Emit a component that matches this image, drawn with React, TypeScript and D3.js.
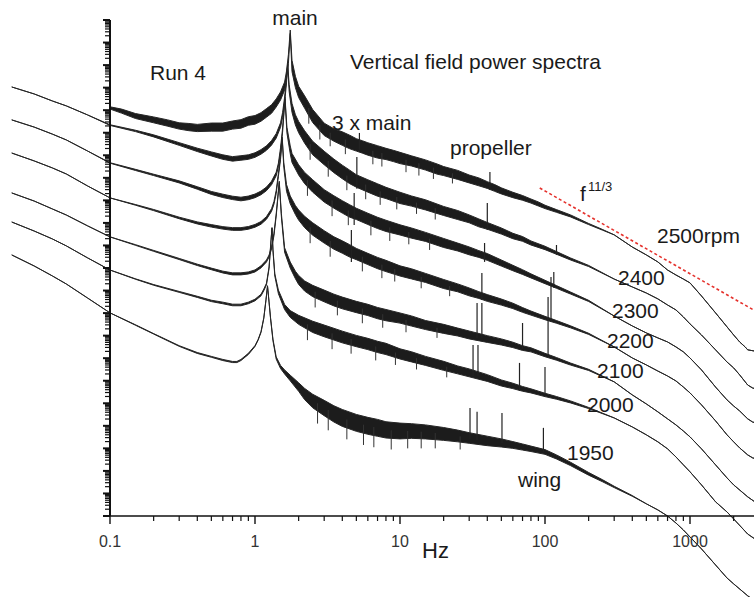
import React from "react";
import * as d3 from "d3";

// [frequency Hz, log10 power, noise spread (decades)]
type Pt = [number, number, number];
// [frequency Hz, top log10 power, bottom log10 power]
type Spike = [number, number, number];

const spec2500: Pt[] = [
  [0.1, -3.9, 0.1], [0.12, -4.04, 0.18], [0.15, -4.26, 0.22], [0.2, -4.43, 0.26], [0.25, -4.57, 0.28],
  [0.3, -4.7, 0.28], [0.35, -4.75, 0.32], [0.4, -4.79, 0.32], [0.5, -4.75, 0.36], [0.6, -4.75, 0.36],
  [0.7, -4.66, 0.36], [0.8, -4.61, 0.38], [0.9, -4.48, 0.38], [1.0, -4.43, 0.38], [1.1, -4.3, 0.38],
  [1.2, -4.12, 0.38], [1.3, -3.95, 0.38], [1.4, -3.68, 0.36], [1.5, -3.37, 0.36], [1.6, -2.93, 0.36],
  [1.65, -2.44, 0.36], [1.7, -1.73, 0.4], [1.75, -0.52, 0.15], [1.8, -2.04, 0.5], [1.9, -2.75, 0.5],
  [2.0, -3.19, 0.5], [2.2, -3.64, 0.55], [2.5, -4.26, 0.58], [3, -4.85, 0.55], [3.5, -5.1, 0.55],
  [4, -5.26, 0.6], [4.5, -5.41, 0.6], [5, -5.54, 0.55], [5.5, -5.63, 0.55], [6, -5.72, 0.55],
  [7, -5.85, 0.55], [8, -5.94, 0.5], [9, -6.03, 0.5], [10, -6.12, 0.5], [12, -6.25, 0.45],
  [15, -6.43, 0.45], [18, -6.61, 0.45], [20, -6.7, 0.4], [25, -6.87, 0.4], [30, -7.05, 0.35],
  [35, -7.18, 0.35], [40, -7.32, 0.3], [45, -7.45, 0.3], [50, -7.58, 0.27], [60, -7.76, 0.24],
  [70, -7.89, 0.21], [80, -8.03, 0.18], [90, -8.16, 0.18], [100, -8.29, 0.15], [120, -8.47, 0.12],
  [150, -8.69, 0.09], [200, -9.05, 0.05], [250, -9.31, 0.03], [300, -9.53, 0], [400, -10.07, 0],
  [500, -10.42, 0], [600, -10.73, 0], [700, -11.09, 0], [800, -11.31, 0], [900, -11.49, 0],
  [1000, -11.66, 0], [1200, -12.24, 0], [1500, -12.99, 0], [1800, -13.61, 0], [2000, -13.97, 0],
  [2200, -14.28, 0], [2400, -14.5, 0], [2500, -14.63, 0], [3000, -14.72, 0],
];

const spec2400: Pt[] = [
  [0.021, -2.97, 0], [0.03, -3.28, 0], [0.04, -3.59, 0], [0.05, -3.81, 0], [0.07, -4.21, 0],
  [0.1, -4.66, 0.03], [0.15, -4.92, 0.06], [0.2, -5.14, 0.09], [0.3, -5.5, 0.12], [0.4, -5.76, 0.15],
  [0.5, -5.94, 0.18], [0.6, -6.08, 0.2], [0.7, -6.16, 0.2], [0.8, -6.12, 0.2], [0.9, -6.08, 0.2],
  [1.0, -5.99, 0.2], [1.1, -5.85, 0.2], [1.2, -5.68, 0.2], [1.3, -5.45, 0.2], [1.4, -5.14, 0.2],
  [1.5, -4.66, 0.2], [1.55, -4.21, 0.22], [1.6, -3.55, 0.25], [1.65, -2.66, 0.25], [1.68, -1.95, 0.1],
  [1.72, -3.02, 0.3], [1.8, -3.9, 0.4], [1.9, -4.43, 0.45], [2.0, -4.75, 0.5], [2.2, -5.19, 0.55],
  [2.5, -5.68, 0.6], [3, -6.12, 0.6], [3.5, -6.47, 0.6], [4, -6.74, 0.6], [4.5, -6.96, 0.6],
  [5, -7.14, 0.55], [6, -7.36, 0.55], [7, -7.54, 0.55], [8, -7.67, 0.5], [10, -7.89, 0.5],
  [12, -8.03, 0.45], [15, -8.2, 0.45], [20, -8.47, 0.4], [25, -8.65, 0.4], [30, -8.82, 0.35],
  [35, -9.0, 0.35], [40, -9.13, 0.3], [50, -9.36, 0.27], [60, -9.58, 0.24], [70, -9.71, 0.21],
  [80, -9.89, 0.18], [100, -10.11, 0.15], [120, -10.33, 0.12], [150, -10.6, 0.09], [200, -10.91, 0.05],
  [300, -11.49, 0], [400, -11.84, 0], [500, -12.11, 0], [600, -12.37, 0], [700, -12.64, 0],
  [800, -12.86, 0], [900, -13.17, 0], [1000, -13.48, 0], [1200, -13.97, 0], [1500, -14.63, 0],
  [1800, -15.17, 0], [2000, -15.43, 0], [2200, -15.74, 0], [2500, -16.19, 0], [2700, -16.32, 0],
  [3000, -16.41, 0],
];

const spec2300: Pt[] = [
  [0.021, -4.43, 0], [0.03, -4.75, 0], [0.04, -5.06, 0], [0.05, -5.32, 0], [0.07, -5.81, 0],
  [0.1, -6.34, 0.02], [0.15, -6.65, 0.05], [0.2, -6.87, 0.06], [0.3, -7.18, 0.09], [0.4, -7.45, 0.11],
  [0.5, -7.67, 0.13], [0.6, -7.8, 0.15], [0.7, -7.89, 0.15], [0.8, -7.94, 0.16], [0.9, -7.89, 0.16],
  [1.0, -7.8, 0.16], [1.1, -7.67, 0.16], [1.2, -7.49, 0.16], [1.3, -7.23, 0.16], [1.4, -6.83, 0.16],
  [1.45, -6.43, 0.16], [1.5, -5.76, 0.18], [1.55, -4.88, 0.18], [1.61, -3.46, 0.08], [1.66, -4.88, 0.25],
  [1.75, -5.76, 0.35], [1.8, -6.12, 0.4], [2.0, -6.65, 0.45], [2.2, -7.01, 0.5], [2.5, -7.36, 0.55],
  [3, -7.8, 0.55], [3.5, -8.07, 0.55], [4, -8.29, 0.55], [4.5, -8.47, 0.55], [5, -8.6, 0.5],
  [6, -8.82, 0.5], [7, -9.0, 0.5], [8, -9.13, 0.5], [10, -9.31, 0.45], [12, -9.45, 0.45],
  [15, -9.62, 0.4], [20, -9.89, 0.4], [25, -10.07, 0.35], [30, -10.24, 0.35], [35, -10.38, 0.3],
  [40, -10.51, 0.3], [50, -10.78, 0.27], [60, -11.0, 0.24], [70, -11.18, 0.21], [80, -11.35, 0.18],
  [100, -11.62, 0.15], [120, -11.84, 0.12], [150, -12.11, 0.09], [200, -12.46, 0.05], [300, -13.13, 0],
  [400, -13.57, 0], [500, -13.88, 0], [600, -14.1, 0], [700, -14.28, 0], [800, -14.5, 0],
  [900, -14.72, 0], [1000, -14.99, 0], [1200, -15.52, 0], [1500, -16.28, 0], [1800, -16.85, 0],
  [2000, -17.12, 0], [2200, -17.34, 0], [2500, -17.69, 0], [2700, -17.83, 0], [3000, -17.92, 0],
];

const spec2200: Pt[] = [
  [0.021, -5.9, 0], [0.03, -6.25, 0], [0.04, -6.56, 0], [0.05, -6.83, 0], [0.07, -7.36, 0],
  [0.1, -7.89, 0], [0.15, -8.2, 0.03], [0.2, -8.43, 0.05], [0.3, -8.78, 0.07], [0.4, -9.0, 0.09],
  [0.5, -9.13, 0.11], [0.6, -9.22, 0.11], [0.7, -9.27, 0.12], [0.8, -9.27, 0.12], [0.9, -9.22, 0.12],
  [1.0, -9.13, 0.12], [1.1, -9.0, 0.12], [1.2, -8.78, 0.12], [1.3, -8.43, 0.12], [1.35, -8.12, 0.12],
  [1.4, -7.63, 0.13], [1.45, -6.87, 0.13], [1.5, -6.12, 0.13], [1.54, -5.23, 0.07], [1.58, -6.43, 0.2],
  [1.65, -7.45, 0.3], [1.75, -7.98, 0.35], [1.9, -8.43, 0.4], [2.0, -8.65, 0.45], [2.2, -8.96, 0.5],
  [2.5, -9.27, 0.55], [3, -9.62, 0.55], [3.5, -9.89, 0.55], [4, -10.07, 0.55], [4.5, -10.24, 0.55],
  [5, -10.38, 0.5], [6, -10.6, 0.5], [7, -10.78, 0.5], [8, -10.91, 0.5], [10, -11.13, 0.45],
  [12, -11.26, 0.45], [15, -11.44, 0.4], [20, -11.71, 0.4], [25, -11.88, 0.35], [30, -12.06, 0.35],
  [35, -12.2, 0.3], [40, -12.33, 0.3], [50, -12.51, 0.27], [60, -12.68, 0.24], [70, -12.86, 0.21],
  [80, -13.0, 0.18], [100, -13.22, 0.15], [120, -13.39, 0.12], [150, -13.61, 0.09], [200, -13.92, 0.05],
  [300, -14.5, 0], [400, -14.99, 0], [500, -15.3, 0], [600, -15.57, 0], [700, -15.79, 0],
  [800, -16.01, 0], [900, -16.28, 0], [1000, -16.54, 0], [1200, -17.07, 0], [1500, -17.78, 0],
  [1800, -18.4, 0], [2000, -18.71, 0], [2200, -18.98, 0], [2500, -19.29, 0], [2700, -19.42, 0],
  [3000, -19.51, 0],
];

const spec2100: Pt[] = [
  [0.021, -7.67, 0], [0.03, -8.03, 0], [0.04, -8.38, 0], [0.05, -8.65, 0], [0.07, -9.13, 0],
  [0.1, -9.62, 0], [0.15, -9.98, 0.03], [0.2, -10.24, 0.04], [0.3, -10.6, 0.05], [0.4, -10.86, 0.06],
  [0.5, -11.04, 0.07], [0.6, -11.18, 0.08], [0.7, -11.26, 0.09], [0.8, -11.26, 0.09], [0.9, -11.22, 0.09],
  [1.0, -11.13, 0.09], [1.1, -10.95, 0.09], [1.2, -10.69, 0.09], [1.25, -10.47, 0.09], [1.3, -10.11, 0.1],
  [1.35, -9.53, 0.1], [1.4, -8.65, 0.1], [1.47, -7.18, 0.06], [1.52, -8.65, 0.14], [1.6, -10.2, 0.2],
  [1.75, -10.87, 0.27], [1.9, -11.31, 0.33], [2.0, -11.53, 0.4], [2.2, -11.8, 0.45], [2.5, -12.02, 0.5],
  [3, -12.24, 0.52], [3.5, -12.42, 0.52], [4, -12.55, 0.52], [5, -12.73, 0.5], [6, -12.86, 0.5],
  [7, -13.0, 0.5], [8, -13.09, 0.5], [10, -13.22, 0.45], [12, -13.35, 0.45], [15, -13.53, 0.4],
  [20, -13.7, 0.4], [25, -13.84, 0.35], [30, -13.97, 0.35], [40, -14.15, 0.3], [50, -14.28, 0.27],
  [60, -14.41, 0.24], [70, -14.55, 0.21], [80, -14.63, 0.18], [100, -14.86, 0.15], [120, -15.03, 0.12],
  [150, -15.26, 0.09], [200, -15.52, 0.05], [300, -16.05, 0], [400, -16.63, 0], [500, -17.03, 0],
  [600, -17.38, 0], [700, -17.69, 0], [800, -17.96, 0], [900, -18.23, 0], [1000, -18.49, 0],
  [1200, -19.02, 0], [1500, -19.73, 0], [1800, -20.31, 0], [2000, -20.62, 0], [2500, -21.15, 0],
  [3000, -21.51, 0],
];

const spec2000: Pt[] = [
  [0.021, -8.96, 0], [0.03, -9.36, 0], [0.04, -9.71, 0], [0.05, -10.02, 0], [0.07, -10.55, 0],
  [0.1, -11.09, 0], [0.15, -11.49, 0.02], [0.2, -11.75, 0.03], [0.3, -12.06, 0.04], [0.4, -12.28, 0.05],
  [0.5, -12.46, 0.06], [0.6, -12.55, 0.07], [0.7, -12.64, 0.07], [0.8, -12.64, 0.07], [0.9, -12.55, 0.07],
  [1.0, -12.42, 0.07], [1.1, -12.2, 0.07], [1.15, -11.97, 0.07], [1.2, -11.71, 0.07], [1.25, -10.99, 0.07],
  [1.29, -9.76, 0.05], [1.31, -9.22, 0.03], [1.33, -10.2, 0.07], [1.37, -11.31, 0.1], [1.45, -12.06, 0.16],
  [1.6, -12.73, 0.23], [1.75, -13.04, 0.3], [2.0, -13.3, 0.4], [2.5, -13.61, 0.5], [3, -13.79, 0.52],
  [4, -14.06, 0.52], [5, -14.24, 0.5], [6, -14.37, 0.5], [7, -14.5, 0.5], [8, -14.59, 0.5],
  [10, -14.81, 0.45], [12, -14.94, 0.45], [15, -15.12, 0.4], [20, -15.34, 0.4], [25, -15.52, 0.35],
  [30, -15.65, 0.35], [40, -15.88, 0.3], [50, -16.1, 0.27], [60, -16.23, 0.24], [70, -16.36, 0.21],
  [80, -16.45, 0.18], [100, -16.63, 0.15], [120, -16.76, 0.12], [150, -16.94, 0.09], [200, -17.21, 0.05],
  [300, -17.65, 0], [400, -18.05, 0], [500, -18.4, 0], [600, -18.71, 0], [700, -19.02, 0],
  [800, -19.38, 0], [900, -19.73, 0], [1000, -20.04, 0], [1200, -20.62, 0], [1500, -21.37, 0],
  [1800, -21.82, 0], [2000, -22.13, 0], [2500, -22.8, 0], [3000, -23.15, 0],
];

const spec1950: Pt[] = [
  [0.021, -10.42, 0], [0.03, -10.91, 0], [0.04, -11.35, 0], [0.05, -11.71, 0], [0.07, -12.33, 0],
  [0.1, -12.99, 0], [0.15, -13.53, 0.02], [0.2, -13.92, 0.02], [0.3, -14.46, 0.03], [0.4, -14.77, 0.04],
  [0.5, -14.94, 0.04], [0.6, -15.08, 0.05], [0.7, -15.17, 0.05], [0.75, -15.17, 0.05], [0.8, -15.08, 0.05],
  [0.9, -14.81, 0.05], [1.0, -14.46, 0.04], [1.05, -14.19, 0.04], [1.1, -13.84, 0.04], [1.15, -13.22, 0.03],
  [1.19, -12.42, 0.03], [1.22, -11.8, 0.03], [1.25, -12.51, 0.03], [1.28, -13.22, 0.04], [1.33, -14.19, 0.07],
  [1.4, -14.99, 0.1], [1.5, -15.39, 0.14], [1.6, -15.61, 0.18], [1.75, -15.88, 0.25], [2.0, -16.28, 0.38],
  [2.2, -16.59, 0.5], [2.5, -16.9, 0.6], [3, -17.21, 0.68], [3.5, -17.47, 0.72], [4, -17.65, 0.75],
  [5, -17.87, 0.75], [6, -18.0, 0.75], [7, -18.09, 0.75], [8, -18.18, 0.72], [10, -18.23, 0.7],
  [12, -18.23, 0.65], [15, -18.27, 0.62], [20, -18.36, 0.57], [25, -18.45, 0.52], [30, -18.54, 0.47],
  [40, -18.67, 0.42], [50, -18.76, 0.36], [60, -18.85, 0.3], [70, -18.94, 0.27], [80, -19.02, 0.24],
  [100, -19.16, 0.21], [120, -19.38, 0.18], [150, -19.69, 0.15], [200, -20.13, 0.12], [250, -20.44, 0.09],
  [300, -20.71, 0.06], [400, -21.11, 0.03], [500, -21.46, 0], [600, -21.73, 0], [700, -22.0, 0],
  [800, -22.31, 0], [900, -22.62, 0], [1000, -22.93, 0], [1200, -23.46, 0], [1500, -24.17, 0],
  [1800, -24.75, 0], [2000, -25.01, 0], [2500, -25.54, 0], [3000, -25.9, 0],
];

// tonal lines (3 x main, propeller harmonics)
const spikes2500: Spike[] = [[5.25, -5.01, -5.76], [41.7, -6.74, -7.54]];
const spikes2400: Spike[] = [[5.04, -6.08, -7.49], [40, -8.12, -9.31], [120, -9.98, -10.42]];
const spikes2300: Spike[] = [[4.83, -7.67, -9.09], [38.3, -9.89, -10.73], [115, -11.18, -11.88]];
const spikes2200: Spike[] = [[4.62, -9.31, -10.73], [36.7, -11.22, -12.42], [110, -11.4, -13.39]];
const spikes2100: Spike[] = [[34, -12.55, -14.1], [36.7, -12.55, -14.1], [70, -13.44, -14.6], [105, -12.29, -14.95]];
const spikes2000: Spike[] = [[31.9, -14.41, -15.8], [34.5, -14.41, -15.8], [66.7, -15.21, -16.45], [100, -15.39, -16.7]];
const spikes1950: Spike[] = [[30.4, -17.21, -18.6], [34, -17.38, -18.63], [50.5, -17.43, -18.76], [97.5, -18.09, -19.16]];

// downward noise dips visible in the bands
const dips2500: Spike[] = [[2.35, -3.9, -4.6], [2.8, -4.65, -5.3], [3.3, -5.0, -5.6], [4.2, -5.3, -5.95], [6.5, -5.8, -6.4], [7.5, -5.9, -6.5], [11, -6.2, -6.75], [13.5, -6.35, -6.9], [17, -6.55, -7.05], [23, -6.8, -7.25]];
const dips2400: Spike[] = [[2.4, -5.5, -6.2], [3.2, -6.25, -6.95], [4.3, -6.9, -7.55], [5.8, -7.3, -7.95], [7.3, -7.6, -8.2], [9.5, -7.85, -8.4], [13, -8.1, -8.6], [17.5, -8.35, -8.85]];
const dips2300: Spike[] = [[2.3, -7.1, -7.8], [3.4, -8.0, -8.7], [4.4, -8.45, -9.1], [6.3, -8.9, -9.55], [8.5, -9.2, -9.8], [11.5, -9.4, -9.95], [16, -9.7, -10.2]];
const dips2200: Spike[] = [[2.4, -9.2, -9.9], [3.3, -9.8, -10.5], [5.5, -10.5, -11.15], [7.5, -10.85, -11.45], [9.2, -11.05, -11.6], [14, -11.4, -11.9], [22, -11.8, -12.25]];
const dips2100: Spike[] = [[2.6, -12.05, -12.75], [3.7, -12.45, -13.1], [5.5, -12.8, -13.45], [7.6, -13.05, -13.65], [11, -13.3, -13.85], [18, -13.65, -14.1]];
const dips2000: Spike[] = [[2.3, -13.5, -14.2], [3.4, -13.9, -14.6], [4.6, -14.15, -14.8], [6.8, -14.48, -15.1], [9.3, -14.75, -15.3], [13, -15.0, -15.5], [21, -15.38, -15.85]];
const dips1950: Spike[] = [[2.7, -17.0, -17.9], [3.2, -17.3, -18.2], [4.3, -17.72, -18.6], [5.6, -17.95, -18.85], [6.6, -18.05, -18.95], [8.7, -18.2, -19.05], [11.3, -18.23, -19.0], [14, -18.26, -19.0], [17.5, -18.32, -19.0], [26, -18.47, -19.05]];

// f^-11/3 reference line endpoints [Hz, log10 power]
const slopeRef: [number, number][] = [[92, -7.45], [2760, -12.87]];

const xTickValues = [0.1, 1, 10, 100, 1000];
const xTickLabels = ["0.1", "1", "10", "100", "1000"];

const spectra = [
  { rpm: "2500", data: spec2500, spikes: spikes2500, dips: dips2500 },
  { rpm: "2400", data: spec2400, spikes: spikes2400, dips: dips2400 },
  { rpm: "2300", data: spec2300, spikes: spikes2300, dips: dips2300 },
  { rpm: "2200", data: spec2200, spikes: spikes2200, dips: dips2200 },
  { rpm: "2100", data: spec2100, spikes: spikes2100, dips: dips2100 },
  { rpm: "2000", data: spec2000, spikes: spikes2000, dips: dips2000 },
  { rpm: "1950", data: spec1950, spikes: spikes1950, dips: dips1950 },
];

const FONT = "'Liberation Sans', Arial, Helvetica, sans-serif";

export default function App() {
  const width = 754;
  const height = 597;
  const x = d3.scaleLog().domain([0.1, 1000]).range([110, 690]);
  const y = d3.scaleLinear().domain([-22, 0]).range([516, 20]);

  const band = d3
    .area<Pt>()
    .x((d) => x(d[0]))
    .y0((d) => y(d[1] - d[2] / 2))
    .y1((d) => y(d[1] + d[2] / 2));
  const refLine = d3
    .line<[number, number]>()
    .x((d) => x(d[0]))
    .y((d) => y(d[1]));

  const yMajor = d3.range(-22, 1);
  const yMinor = d3.range(-22, 0).flatMap((k) => d3.range(2, 10).map((m) => k + Math.log10(m)));
  const xMinor = d3
    .range(-1, 4)
    .flatMap((k) => d3.range(2, 10).map((m) => m * Math.pow(10, k)))
    .filter((v) => x(v) <= width);

  const axisX0 = x(0.1);
  const axisY0 = y(-22);
  const textColor = "#1a1a1a";

  return (
    <svg
      width={width}
      height={height}
      viewBox={`0 0 ${width} ${height}`}
      style={{ position: "absolute", left: 0, top: 0, display: "block", background: "#fff" }}
      fontFamily={FONT}
    >
      <rect x={0} y={0} width={width} height={height} fill="#fff" />

      {spectra.map((s) => (
        <g key={s.rpm}>
          <path d={band(s.data) || ""} fill="#1c1c1c" stroke="#262626" strokeWidth={1} strokeLinejoin="round" />
          {s.dips.map((sp, i) => (
            <line key={`d${i}`} x1={x(sp[0])} x2={x(sp[0])} y1={y(sp[1])} y2={y(sp[2])} stroke="#333" strokeWidth={1} />
          ))}
          {s.spikes.map((sp, i) => (
            <line key={`s${i}`} x1={x(sp[0])} x2={x(sp[0])} y1={y(sp[1])} y2={y(sp[2])} stroke="#222" strokeWidth={1.2} />
          ))}
        </g>
      ))}

      <path d={refLine(slopeRef) || ""} fill="none" stroke="#e5322d" strokeWidth={1.6} strokeDasharray="3 2.5" />

      {/* y axis */}
      <line x1={axisX0} x2={axisX0} y1={y(0)} y2={axisY0} stroke="#111" strokeWidth={2} />
      {yMajor.map((v) => (
        <line key={`ym${v}`} x1={axisX0 - 7} x2={axisX0} y1={y(v)} y2={y(v)} stroke="#111" strokeWidth={2} />
      ))}
      {yMinor.map((v, i) => (
        <line key={`yn${i}`} x1={axisX0 - 5} x2={axisX0} y1={y(v)} y2={y(v)} stroke="#111" strokeWidth={1.2} />
      ))}

      {/* x axis */}
      <line x1={axisX0} x2={width} y1={axisY0} y2={axisY0} stroke="#111" strokeWidth={1.6} />
      {xTickValues.map((v) => (
        <line key={`xm${v}`} x1={x(v)} x2={x(v)} y1={axisY0} y2={axisY0 + 8} stroke="#111" strokeWidth={1.4} />
      ))}
      {xMinor.map((v, i) => (
        <line key={`xn${i}`} x1={x(v)} x2={x(v)} y1={axisY0} y2={axisY0 + 5} stroke="#111" strokeWidth={1.2} />
      ))}
      {xTickValues.map((v, i) => (
        <text key={`xl${v}`} x={x(v)} y={547} textAnchor="middle" fontSize={16} fill="#333">
          {xTickLabels[i]}
        </text>
      ))}
      <text x={422} y={558} fontSize={22} fill={textColor}>Hz</text>

      {/* annotations */}
      <text x={150} y={80} fontSize={21} fill={textColor}>Run 4</text>
      <text x={295} y={25} fontSize={21} textAnchor="middle" fill={textColor}>main</text>
      <text x={350} y={69} fontSize={21} fill={textColor}>Vertical field power spectra</text>
      <text x={332} y={130} fontSize={21} fill={textColor}>3 x main</text>
      <text x={450} y={155} fontSize={21} fill={textColor}>propeller</text>
      <text x={580} y={201} fontSize={21} fill={textColor}>f</text>
      <text x={588} y={191} fontSize={13} fill={textColor}>11/3</text>
      <text x={657} y={243} fontSize={21} fill={textColor}>2500rpm</text>
      <text x={618} y={285} fontSize={21} fill={textColor}>2400</text>
      <text x={612} y={318} fontSize={21} fill={textColor}>2300</text>
      <text x={607} y={348} fontSize={21} fill={textColor}>2200</text>
      <text x={597} y={378} fontSize={21} fill={textColor}>2100</text>
      <text x={587} y={412} fontSize={21} fill={textColor}>2000</text>
      <text x={567} y={460} fontSize={21} fill={textColor}>1950</text>
      <text x={518} y={487} fontSize={21} fill={textColor}>wing</text>
    </svg>
  );
}
